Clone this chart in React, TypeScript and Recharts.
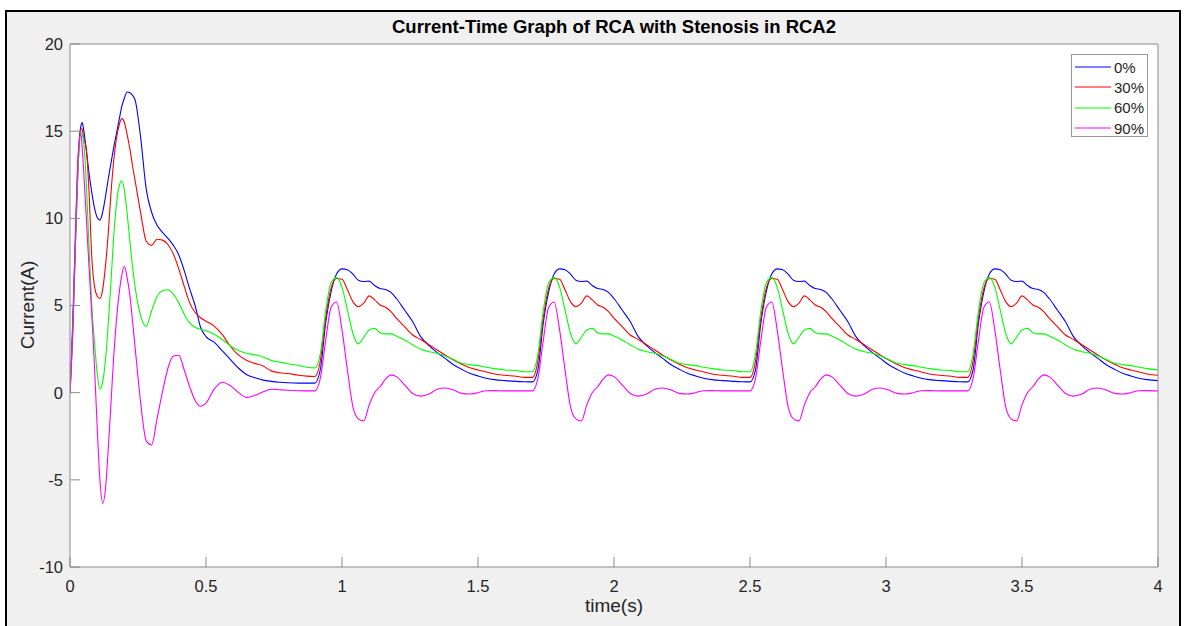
import React from "react";
import { LineChart, Line, XAxis, YAxis, CartesianGrid, Legend } from "recharts";

// ---------- data ----------
const timeS = [
  0, 0.01, 0.02, 0.03, 0.04, 0.045,
  0.05, 0.06, 0.07, 0.08, 0.09, 0.1, 0.11, 0.12, 0.13, 0.14, 0.15, 0.16, 0.17, 0.18, 0.19, 0.2, 0.21, 0.22, 0.23, 0.24,
  0.26, 0.28, 0.3, 0.32, 0.34, 0.36, 0.38, 0.4, 0.42, 0.44, 0.46, 0.48, 0.5,
  0.53, 0.56, 0.59, 0.62, 0.65, 0.68, 0.71, 0.74, 0.77, 0.8,
  0.84, 0.87,
  0.9, 0.92, 0.94, 0.96, 0.98, 1.0, 1.02, 1.04, 1.06, 1.08, 1.1, 1.12, 1.14, 1.16, 1.18, 1.2,
  1.23, 1.26, 1.29, 1.32, 1.35, 1.38, 1.41, 1.44, 1.47, 1.5, 1.53, 1.56, 1.6, 1.64, 1.67,
  1.7, 1.72, 1.74, 1.76, 1.78, 1.8, 1.82, 1.84, 1.86, 1.88, 1.9, 1.92, 1.94, 1.96, 1.98, 2.0,
  2.03, 2.06, 2.09, 2.12, 2.15, 2.18, 2.21, 2.24, 2.27, 2.3, 2.33, 2.36, 2.4, 2.44, 2.47,
  2.5, 2.52, 2.54, 2.56, 2.58, 2.6, 2.62, 2.64, 2.66, 2.68, 2.7, 2.72, 2.74, 2.76, 2.78, 2.8,
  2.83, 2.86, 2.89, 2.92, 2.95, 2.98, 3.01, 3.04, 3.07, 3.1, 3.13, 3.16, 3.2, 3.24, 3.27,
  3.3, 3.32, 3.34, 3.36, 3.38, 3.4, 3.42, 3.44, 3.46, 3.48, 3.5, 3.52, 3.54, 3.56, 3.58, 3.6,
  3.63, 3.66, 3.69, 3.72, 3.75, 3.78, 3.81, 3.84, 3.87, 3.9, 3.93, 3.96, 4.0,
];

const current0 = [
  0, 4, 9, 13.5, 15.3, 15.5,
  15.1, 13.9, 12.6, 11.5, 10.6, 10.05, 9.9, 10.35, 11.2, 12.2, 13.1, 14.0, 14.8, 15.6, 16.4, 16.9, 17.25, 17.2, 17.05, 16.75,
  14.6, 11.7, 10.35, 9.6, 9.2, 8.85, 8.45, 7.9, 7.0, 5.95, 5.0, 3.75, 3.21,
  2.9, 2.4, 1.9, 1.4, 1.03, 0.85, 0.72, 0.65, 0.6, 0.57,
  0.55, 0.55,
  0.55, 1.3, 4.0, 5.8, 6.8, 7.1, 7.05, 6.8, 6.45, 6.38, 6.4, 6.15, 5.97, 5.92, 5.75, 5.4,
  4.74, 4.07, 3.2, 2.7, 2.3, 1.95, 1.6, 1.34, 1.11, 0.96, 0.83, 0.75, 0.69, 0.65, 0.63,
  0.62, 1.3, 4.0, 5.8, 6.8, 7.1, 7.05, 6.8, 6.45, 6.38, 6.4, 6.15, 5.97, 5.92, 5.75, 5.4,
  4.74, 4.07, 3.2, 2.7, 2.3, 1.95, 1.6, 1.34, 1.11, 0.96, 0.83, 0.75, 0.69, 0.65, 0.63,
  0.62, 1.3, 4.0, 5.8, 6.8, 7.1, 7.05, 6.8, 6.45, 6.38, 6.4, 6.15, 5.97, 5.92, 5.75, 5.4,
  4.74, 4.07, 3.2, 2.7, 2.3, 1.95, 1.6, 1.34, 1.11, 0.96, 0.83, 0.75, 0.69, 0.65, 0.63,
  0.62, 1.3, 4.0, 5.8, 6.8, 7.1, 7.05, 6.8, 6.45, 6.38, 6.4, 6.15, 5.97, 5.92, 5.75, 5.4,
  4.74, 4.07, 3.2, 2.7, 2.3, 1.95, 1.6, 1.34, 1.11, 0.96, 0.83, 0.75, 0.69,
];

const current30 = [
  0, 3.5, 8.5, 13.0, 15.15, 15.1,
  14.6, 14.0, 11.5, 7.8, 6.1, 5.55, 5.4, 5.9, 7.2, 9.0, 11.3, 13.2, 14.5, 15.3, 15.72, 15.5, 14.8, 14.0, 13.0, 12.1,
  10.3, 8.7, 8.45, 8.8, 8.75, 8.5, 7.95, 7.1, 6.1, 5.15, 4.6, 4.3, 4.1,
  3.82, 3.33, 2.65, 2.15, 1.85, 1.68, 1.53, 1.25, 1.14, 1.1,
  1.0, 0.95,
  0.93, 1.8, 4.3, 6.0, 6.55, 6.5, 5.9, 5.22, 4.93, 5.13, 5.55, 5.32, 5.03, 4.9, 4.65, 4.27,
  3.79, 3.31, 3.05, 2.75, 2.45, 2.15, 1.87, 1.63, 1.43, 1.3, 1.19, 1.07, 1.0, 0.94, 0.88,
  0.88, 1.8, 4.3, 6.0, 6.55, 6.5, 5.9, 5.22, 4.93, 5.13, 5.55, 5.32, 5.03, 4.9, 4.65, 4.27,
  3.79, 3.31, 3.05, 2.75, 2.45, 2.15, 1.87, 1.63, 1.43, 1.3, 1.19, 1.07, 1.0, 0.94, 0.88,
  0.88, 1.8, 4.3, 6.0, 6.55, 6.5, 5.9, 5.22, 4.93, 5.13, 5.55, 5.32, 5.03, 4.9, 4.65, 4.27,
  3.79, 3.31, 3.05, 2.75, 2.45, 2.15, 1.87, 1.63, 1.43, 1.3, 1.19, 1.07, 1.0, 0.94, 0.88,
  0.88, 1.8, 4.3, 6.0, 6.55, 6.5, 5.9, 5.22, 4.93, 5.13, 5.55, 5.32, 5.03, 4.9, 4.65, 4.27,
  3.79, 3.31, 3.05, 2.75, 2.45, 2.15, 1.87, 1.63, 1.43, 1.3, 1.19, 1.07, 1.0,
];

const current60 = [
  0, 3.5, 8.5, 13.0, 14.95, 14.85,
  14.4, 12.0, 8.3, 5.0, 2.9, 1.1, 0.2, 0.6, 1.8, 3.8, 6.2, 8.8, 10.7, 11.8, 12.15, 11.6, 10.3, 8.7, 7.2, 6.0,
  4.4, 3.8, 4.7, 5.5, 5.85, 5.9, 5.65, 5.15, 4.5, 4.0, 3.75, 3.63, 3.55,
  3.35, 3.05, 2.68, 2.4, 2.26, 2.17, 2.05, 1.85, 1.75, 1.66,
  1.56, 1.46,
  1.42, 2.2, 4.7, 6.3, 6.6, 6.05, 4.74, 3.41, 2.8, 3.18, 3.6, 3.69, 3.44, 3.37, 3.37, 3.25,
  3.02, 2.74, 2.49, 2.35, 2.26, 2.1, 1.9, 1.69, 1.61, 1.55, 1.46, 1.38, 1.3, 1.27, 1.2,
  1.2, 2.2, 4.7, 6.3, 6.6, 6.05, 4.74, 3.41, 2.8, 3.18, 3.6, 3.69, 3.44, 3.37, 3.37, 3.25,
  3.02, 2.74, 2.49, 2.35, 2.26, 2.1, 1.9, 1.69, 1.61, 1.55, 1.46, 1.38, 1.3, 1.27, 1.2,
  1.2, 2.2, 4.7, 6.3, 6.6, 6.05, 4.74, 3.41, 2.8, 3.18, 3.6, 3.69, 3.44, 3.37, 3.37, 3.25,
  3.02, 2.74, 2.49, 2.35, 2.26, 2.1, 1.9, 1.69, 1.61, 1.55, 1.46, 1.38, 1.3, 1.27, 1.2,
  1.2, 2.2, 4.7, 6.3, 6.6, 6.05, 4.74, 3.41, 2.8, 3.18, 3.6, 3.69, 3.44, 3.37, 3.37, 3.25,
  3.02, 2.74, 2.49, 2.35, 2.26, 2.1, 1.9, 1.69, 1.61, 1.55, 1.46, 1.38, 1.3,
];

const current90 = [
  0, 3.5, 9.0, 13.6, 14.85, 14.0,
  12.8, 10.0, 7.2, 4.5, 1.5, -2.0, -5.0, -6.35, -5.6, -3.4, -0.8, 1.9, 4.0, 5.6, 6.7, 7.25, 6.6, 5.6, 4.1, 2.5,
  -0.6, -2.75, -3.0, -1.5, 0.05, 1.4, 2.1, 2.15, 1.3, 0.35, -0.45, -0.78, -0.6,
  0.2, 0.6, 0.4, 0.0, -0.27, -0.15, 0.05, 0.2, 0.17, 0.14,
  0.11, 0.1,
  0.1, 0.8, 3.0, 4.9, 5.2, 3.6, 1.3, -0.8, -1.5, -1.62, -0.7, 0.0, 0.34, 0.77, 1.02, 0.92,
  0.45, -0.05, -0.2, -0.08, 0.19, 0.27, 0.15, -0.04, -0.08, 0.0, 0.11, 0.12, 0.1, 0.1, 0.1,
  0.1, 0.8, 3.0, 4.9, 5.2, 3.6, 1.3, -0.8, -1.5, -1.62, -0.7, 0.0, 0.34, 0.77, 1.02, 0.92,
  0.45, -0.05, -0.2, -0.08, 0.19, 0.27, 0.15, -0.04, -0.08, 0.0, 0.11, 0.12, 0.1, 0.1, 0.1,
  0.1, 0.8, 3.0, 4.9, 5.2, 3.6, 1.3, -0.8, -1.5, -1.62, -0.7, 0.0, 0.34, 0.77, 1.02, 0.92,
  0.45, -0.05, -0.2, -0.08, 0.19, 0.27, 0.15, -0.04, -0.08, 0.0, 0.11, 0.12, 0.1, 0.1, 0.1,
  0.1, 0.8, 3.0, 4.9, 5.2, 3.6, 1.3, -0.8, -1.5, -1.62, -0.7, 0.0, 0.34, 0.77, 1.02, 0.92,
  0.45, -0.05, -0.2, -0.08, 0.19, 0.27, 0.15, -0.04, -0.08, 0.0, 0.11, 0.12, 0.1,
];

const seriesKeys = ["s0", "s30", "s60", "s90"];
const seriesNames = ["0%", "30%", "60%", "90%"];
const seriesColors = ["#0000ff", "#ff0000", "#00ff00", "#ff00ff"];
const xTicks = [0, 0.5, 1, 1.5, 2, 2.5, 3, 3.5, 4];
const yTicks = [-10, -5, 0, 5, 10, 15, 20];
const titleText = "Current-Time Graph of RCA with Stenosis in RCA2";
const xLabelText = "time(s)";
const yLabelText = "Current(A)";

const data = timeS.map((t, i) => ({
  t,
  s0: current0[i],
  s30: current30[i],
  s60: current60[i],
  s90: current90[i],
}));

// ---------- styling ----------
const FONT = "'Liberation Sans', Arial, Helvetica, sans-serif";
const AXIS = "#8a8a8a";
const TEXT = "#262626";
const W = 1184;
const H = 626;

const LegendBox = (props: any) => {
  const payload = props.payload || [];
  return (
    <div
      style={{
        width: 77,
        height: 83,
        boxSizing: "border-box",
        border: "1px solid #9a9a9a",
        background: "#ffffff",
        fontFamily: FONT,
        fontSize: 15,
        color: TEXT,
        paddingTop: 2,
      }}
    >
      {payload.map((p: any, i: number) => (
        <div key={i} style={{ display: "flex", alignItems: "center", height: 20.3 }}>
          <svg width={41} height={4} style={{ display: "block" }}>
            <line x1={3} x2={39} y1={2} y2={2} stroke={p.color} strokeWidth={1.2} />
          </svg>
          <span style={{ marginLeft: 1, lineHeight: "15px" }}>{p.value}</span>
        </div>
      ))}
    </div>
  );
};

export default function App() {
  return (
    <div style={{ position: "fixed", left: 0, top: 0, width: W, height: H, background: "#ffffff", overflow: "hidden" }}>
      <div
        style={{
          position: "absolute",
          left: 5,
          top: 10,
          width: 1176,
          height: 660,
          boxSizing: "border-box",
          border: "2px solid #000000",
          background: "#f0f0f0",
        }}
      />
      <svg width={W} height={H} style={{ position: "absolute", left: 0, top: 0 }}>
        <text x={614} y={33} textAnchor="middle" fontFamily={FONT} fontWeight="bold" fontSize={18.5} fill="#000">
          {titleText}
        </text>
        <text x={614} y={612} textAnchor="middle" fontFamily={FONT} fontSize={19} fill={TEXT}>
          {xLabelText}
        </text>
        <text transform="translate(34,305) rotate(-90)" textAnchor="middle" fontFamily={FONT} fontSize={19} fill={TEXT}>
          {yLabelText}
        </text>
      </svg>
      <div style={{ position: "absolute", left: 0, top: 0 }}>
        <LineChart width={W} height={H} data={data} margin={{ top: 43, right: 25, bottom: 58, left: 69 }}>
          <CartesianGrid horizontal={false} vertical={false} fill="#ffffff" />
          <XAxis
            dataKey="t"
            type="number"
            domain={[0, 4]}
            ticks={xTicks}
            allowDataOverflow
            height={1}
            tickSize={-10}
            tickMargin={23}
            interval={0}
            axisLine={{ stroke: AXIS }}
            tickLine={{ stroke: AXIS }}
            tick={{ fill: TEXT, fontSize: 16.5, fontFamily: FONT }}
          />
          <XAxis
            xAxisId="top"
            orientation="top"
            dataKey="t"
            type="number"
            domain={[0, 4]}
            ticks={xTicks}
            allowDataOverflow
            height={1}
            tickSize={-10}
            interval={0}
            axisLine={{ stroke: AXIS }}
            tickLine={{ stroke: AXIS }}
            tick={false}
          />
          <YAxis
            type="number"
            domain={[-10, 20]}
            ticks={yTicks}
            allowDataOverflow
            width={1}
            tickSize={-10}
            tickMargin={17}
            interval={0}
            axisLine={{ stroke: AXIS }}
            tickLine={{ stroke: AXIS }}
            tick={{ fill: TEXT, fontSize: 16.5, fontFamily: FONT }}
          />
          <YAxis
            yAxisId="right"
            orientation="right"
            type="number"
            domain={[-10, 20]}
            ticks={yTicks}
            allowDataOverflow
            width={1}
            tickSize={-10}
            interval={0}
            axisLine={{ stroke: AXIS }}
            tickLine={{ stroke: AXIS }}
            tick={false}
          />
          {seriesKeys.map((k, i) => (
            <Line
              key={k}
              dataKey={k}
              name={seriesNames[i]}
              stroke={seriesColors[i]}
              strokeWidth={1.1}
              type="monotone"
              dot={false}
              activeDot={false}
              isAnimationActive={false}
            />
          ))}
          <Legend
            layout="vertical"
            align="center"
            verticalAlign="middle"
            content={<LegendBox />}
            wrapperStyle={{ position: "absolute", left: 1071, top: 54, width: 77, height: 83 }}
          />
        </LineChart>
      </div>
    </div>
  );
}
